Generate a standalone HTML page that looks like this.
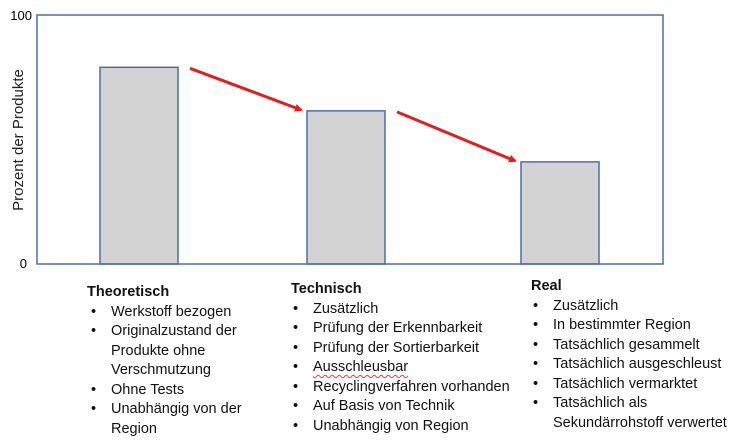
<!DOCTYPE html>
<html><head><meta charset="utf-8"><style>
body{margin:0;width:756px;height:444px;background:#fff;overflow:hidden;font-family:"Liberation Sans",sans-serif;}
.col{position:absolute;font-size:14.5px;color:#111;}
.col div{height:19.5px;line-height:19.5px;white-space:nowrap;position:relative;}
.col .h{font-weight:bold;}
.col .b::before{content:"•";position:absolute;left:-20px;}
.sq{text-decoration:underline wavy #e04040;text-decoration-thickness:1px;text-underline-offset:3px;}
</style></head><body>
<svg id="chart" width="756" height="280" style="position:absolute;left:0;top:0">
<defs><marker id="ah" markerWidth="8" markerHeight="8" refX="6" refY="4" orient="auto" markerUnits="userSpaceOnUse"><path d="M0,0 L8,4 L0,8 z" fill="#e02020"/></marker></defs>
<g id="bars"></g>
<rect x="37" y="15" width="626" height="249" fill="none" stroke="#4a6fa5" stroke-width="1.5"/>
<text x="32" y="20" text-anchor="end" font-size="13" font-family="Liberation Sans">100</text>
<text x="27" y="268" text-anchor="end" font-size="13" font-family="Liberation Sans">0</text>
<text transform="translate(23,140) rotate(-90)" text-anchor="middle" font-size="15" font-family="Liberation Sans" fill="#222">Prozent der Produkte</text>
</svg>
<div class="col" style="left:111px;top:283px">
<div class="h" style="margin-left:-24px">Theoretisch</div>
<div class="b">Werkstoff bezogen</div>
<div class="b">Originalzustand der</div>
<div>Produkte ohne</div>
<div>Verschmutzung</div>
<div class="b">Ohne Tests</div>
<div class="b">Unabhängig von der</div>
<div>Region</div>
</div>
<div class="col" style="left:313px;top:280px">
<div class="h" style="margin-left:-22px">Technisch</div>
<div class="b">Zusätzlich</div>
<div class="b">Prüfung der Erkennbarkeit</div>
<div class="b">Prüfung der Sortierbarkeit</div>
<div class="b"><span class="sq">Ausschleusbar</span></div>
<div class="b">Recyclingverfahren vorhanden</div>
<div class="b">Auf Basis von Technik</div>
<div class="b">Unabhängig von Region</div>
</div>
<div class="col" style="left:553px;top:277px">
<div class="h" style="margin-left:-22px">Real</div>
<div class="b">Zusätzlich</div>
<div class="b">In bestimmter Region</div>
<div class="b">Tatsächlich gesammelt</div>
<div class="b">Tatsächlich ausgeschleust</div>
<div class="b">Tatsächlich vermarktet</div>
<div class="b">Tatsächlich als</div>
<div>Sekundärrohstoff verwertet</div>
</div>
<script>
const categories=["Theoretisch","Technisch","Real"];
const values=[79,61.5,41];
const x0=37,x1=663,y0=264,y1=15;
const yScale=v=>y0-(v/100)*(y0-y1);
const centers=[139,346,560];
const xScale=i=>centers[i];
const bw=78;
const g=document.getElementById('bars');
const ns="http://www.w3.org/2000/svg";
values.forEach((v,i)=>{
 const r=document.createElementNS(ns,'rect');
 
 
 r.setAttribute('x',xScale(i)-bw/2);r.setAttribute('y',yScale(v));
 r.setAttribute('width',bw);r.setAttribute('height',y0-yScale(v));
 r.setAttribute('fill','#d3d3d3');r.setAttribute('stroke','#4a6fa5');r.setAttribute('stroke-width','1.5');
 g.appendChild(r);
});
for(let i=0;i<values.length-1;i++){
 const l=document.createElementNS(ns,'line');
 
 
 l.setAttribute('x1',xScale(i)+bw/2+12);l.setAttribute('y1',yScale(values[i])+1);
 l.setAttribute('x2',xScale(i+1)-bw/2-6);l.setAttribute('y2',yScale(values[i+1])-1);
 l.setAttribute('stroke','#e02020');l.setAttribute('stroke-width','3');l.setAttribute('marker-end','url(#ah)');
 g.appendChild(l);
}
</script>
</body></html>
